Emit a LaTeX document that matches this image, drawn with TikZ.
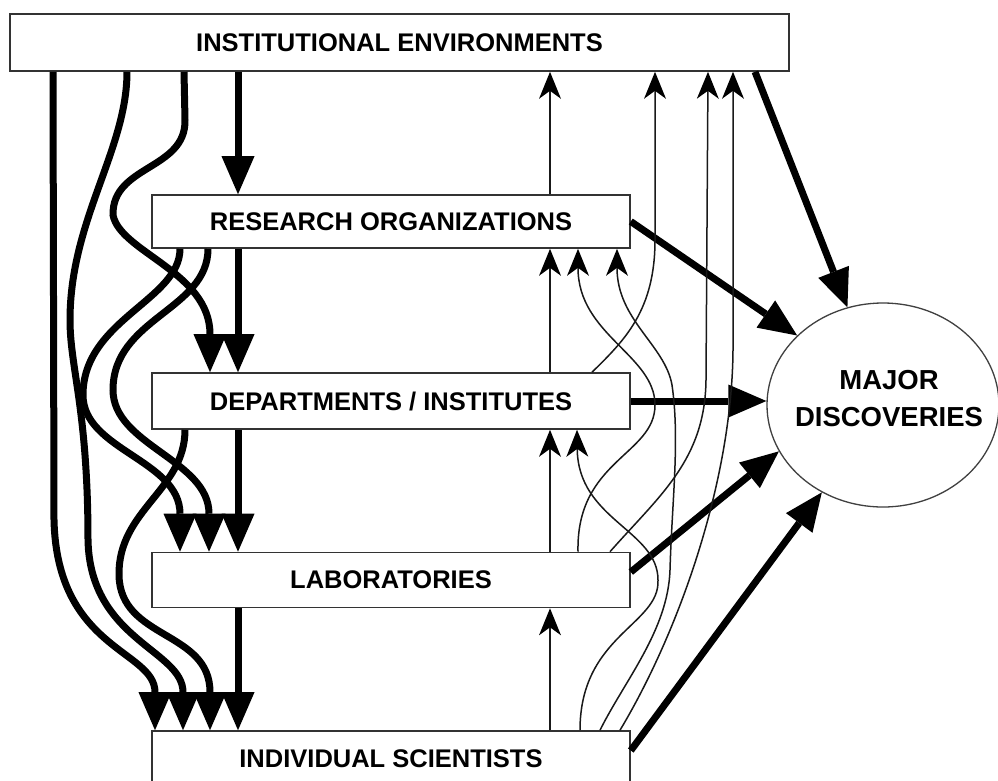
\documentclass[tikz,border=0pt]{standalone}
\usepackage{fontspec}
\setmainfont{Liberation Sans}
\usetikzlibrary{arrows.meta,shapes.geometric,calc}
\begin{document}
\begin{tikzpicture}[x=1pt,y=-1pt,
  box/.style={draw=black!80, line width=1.6pt, fill=white, inner sep=0pt, minimum height=55pt, text depth=0pt,
    font=\fontsize{25.5pt}{30pt}\selectfont\bfseries},
  thickarrow/.style={line width=7pt, -{Triangle[length=38pt,width=33pt,line width=0pt]}},
  thinarrow/.style={line width=1.5pt, draw=black!90, -{Stealth[length=27pt,width=22pt,inset=8pt,line width=0pt,fill=black]}},
]
\useasboundingbox (0,0) rectangle (998,780);
\fill[white] (0,0) rectangle (998,780);

% boxes
\node[box, minimum width=779pt, minimum height=57pt] (ie) at (399.5,42.5) {INSTITUTIONAL ENVIRONMENTS};
\node[box, minimum width=478pt, minimum height=53pt] (ro) at (391,221.5) {RESEARCH ORGANIZATIONS};
\node[box, minimum width=478pt, minimum height=56pt] (dep) at (391,401) {DEPARTMENTS / INSTITUTES};
\node[box, minimum width=478pt] (lab) at (391,580) {LABORATORIES};
\node[box, minimum width=478pt] (is) at (391,758.5) {INDIVIDUAL SCIENTISTS};

% ellipse
\node[draw=black!75, line width=1.3pt, ellipse, minimum width=232pt, minimum height=204pt, inner sep=0pt] (md) at (883,405) {};
\node[font=\fontsize{27.5pt}{37pt}\selectfont\bfseries, align=center, inner sep=0pt] (mdt) at (889,398.5) {MAJOR\\DISCOVERIES};

% thick straight downward arrows
\draw[thickarrow] (238,0 |- ie.south) -- (238,0 |- ro.north);
\draw[thickarrow] (238,0 |- ro.south) -- (238,0 |- dep.north);
\draw[thickarrow] (238,0 |- dep.south) -- (238,0 |- lab.north);
\draw[thickarrow] (238,0 |- lab.south) -- (238,0 |- is.north);

% thick curved arrows
\draw[thickarrow] (184,0 |- ie.south) -- (185,120) .. controls (186,170) and (112,165) .. (113,215) .. controls (120,252) and (210,272) .. (210,0 |- dep.north);
\draw[thickarrow] (127,0 |- ie.south) .. controls (127,150) and (70,220) .. (70,320) .. controls (70,368) and (88,410) .. (88,540) .. controls (90,640) and (183,650) .. (183,0 |- is.north);
\draw[thickarrow] (53,0 |- ie.south) -- (54,520) .. controls (57,650) and (155,650) .. (155,0 |- is.north);
\draw[thickarrow] (180,0 |- ro.south) .. controls (180,300) and (83,320) .. (83,395) .. controls (83,450) and (180,460) .. (180,0 |- lab.north);
\draw[thickarrow] (208,0 |- ro.south) .. controls (208,310) and (113,318) .. (113,390) .. controls (113,445) and (209,460) .. (209,0 |- lab.north);
\draw[thickarrow] (185,0 |- dep.south) .. controls (185,490) and (118,510) .. (119,575) .. controls (120,640) and (210,630) .. (210,0 |- is.north);

% thick arrows to major discoveries
\draw[thickarrow] (755,0 |- ie.south) -- (md.110);
\draw[thickarrow] (ro.east) -- (md.141);
\draw[thickarrow] (dep.east) -- (dep.east -| md.west);
\draw[thickarrow] ([yshift=8pt]lab.east) -- (md.204);
\draw[thickarrow] ([yshift=8pt]is.east) -- (md.235);

% thin upward arrows
\draw[thinarrow] (550,0 |- ro.north) -- (550,0 |- ie.south);
\draw[thinarrow] (550,0 |- dep.north) -- (550,0 |- ro.south);
\draw[thinarrow] (550,0 |- lab.north) -- (550,0 |- dep.south);
\draw[thinarrow] (550,0 |- is.north) -- (550,0 |- lab.south);
\draw[thinarrow] (592,0 |- dep.north) .. controls (625,340) and (655,310) .. (655,240) -- (655,0 |- ie.south);
\draw[thinarrow] (578,0 |- lab.north) .. controls (576,460) and (655,455) .. (655,405) .. controls (655,355) and (578,335) .. (578,0 |- ro.south);
\draw[thinarrow] (610,0 |- lab.north) .. controls (660,495) and (705,460) .. (706,380) -- (708,0 |- ie.south);
\draw[thinarrow] (600,0 |- is.north) .. controls (625,680) and (668,630) .. (670,570) .. controls (672,500) and (680,440) .. (672,385) .. controls (665,345) and (617,320) .. (617,0 |- ro.south);
\draw[thinarrow] (620,0 |- is.north) .. controls (680,630) and (732,480) .. (733,350) -- (733,0 |- ie.south);
\draw[thinarrow] (580,0 |- is.north) .. controls (580,635) and (660,625) .. (658,580) .. controls (658,530) and (578,520) .. (577,0 |- dep.south);
\end{tikzpicture}
\end{document}
